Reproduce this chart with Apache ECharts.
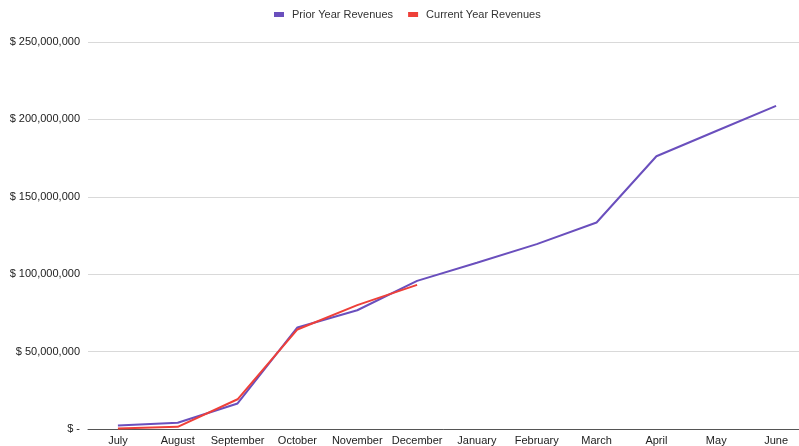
<!DOCTYPE html>
<html><head><meta charset="utf-8">
<script src="https://cdn.jsdelivr.net/npm/echarts@6/dist/echarts.min.js"></script>
<style>html,body{margin:0;padding:0;background:#fff;overflow:hidden}#c{width:799px;height:446px}</style>
</head><body><div id="c"></div>
<script>
const months = ['July','August','September','October','November','December','January','February','March','April','May','June'];
const priorYear = [2300000, 4000000, 16500000, 65600000, 76700000, 95700000, 107400000, 119400000, 133400000, 176200000, 192500000, 208700000];
const currentYear = [400000, 1400000, 19200000, 64300000, 80000000, 93100000];
const yTicks = {min: 0, max: 250000000, interval: 50000000};

const chart = echarts.init(document.getElementById('c'));
const fmt = v => v === 0 ? '$ -' : '$ ' + v.toLocaleString('en-US');
chart.setOption({
  animation: false,
  textStyle: {fontFamily: 'Liberation Sans, Arial, sans-serif'},
  legend: {
    top: 9, left: 274, itemWidth: 10, itemHeight: 5, itemGap: 15,
    icon: 'rect', padding: 0,
    textStyle: {fontSize: 11, color: '#333', padding: [0, 0, 0, 3]},
    data: ['Prior Year Revenues', 'Current Year Revenues']
  },
  grid: {left: 88, width: 718, top: 42, bottom: 17, containLabel: false, outerBoundsMode: 'none'},
  xAxis: {
    type: 'category', data: months, boundaryGap: true,
    axisLine: {lineStyle: {color: '#555', width: 1}},
    axisTick: {show: false},
    axisLabel: {color: '#222', fontSize: 11, margin: 6, interval: 0}
  },
  yAxis: {
    type: 'value', min: yTicks.min, max: yTicks.max, interval: yTicks.interval,
    axisLine: {show: false}, axisTick: {show: false},
    splitLine: {lineStyle: {color: '#d9d9d9'}},
    axisLabel: {color: '#222', fontSize: 11, margin: 8, formatter: fmt}
  },
  series: [
    {name: 'Prior Year Revenues', type: 'line', data: priorYear, symbol: 'none',
     lineStyle: {color: '#6a4fbd', width: 2}, itemStyle: {color: '#6a4fbd'}},
    {name: 'Current Year Revenues', type: 'line', data: currentYear, symbol: 'none',
     lineStyle: {color: '#ee4039', width: 2}, itemStyle: {color: '#ee4039'}}
  ]
});
</script></body></html>
